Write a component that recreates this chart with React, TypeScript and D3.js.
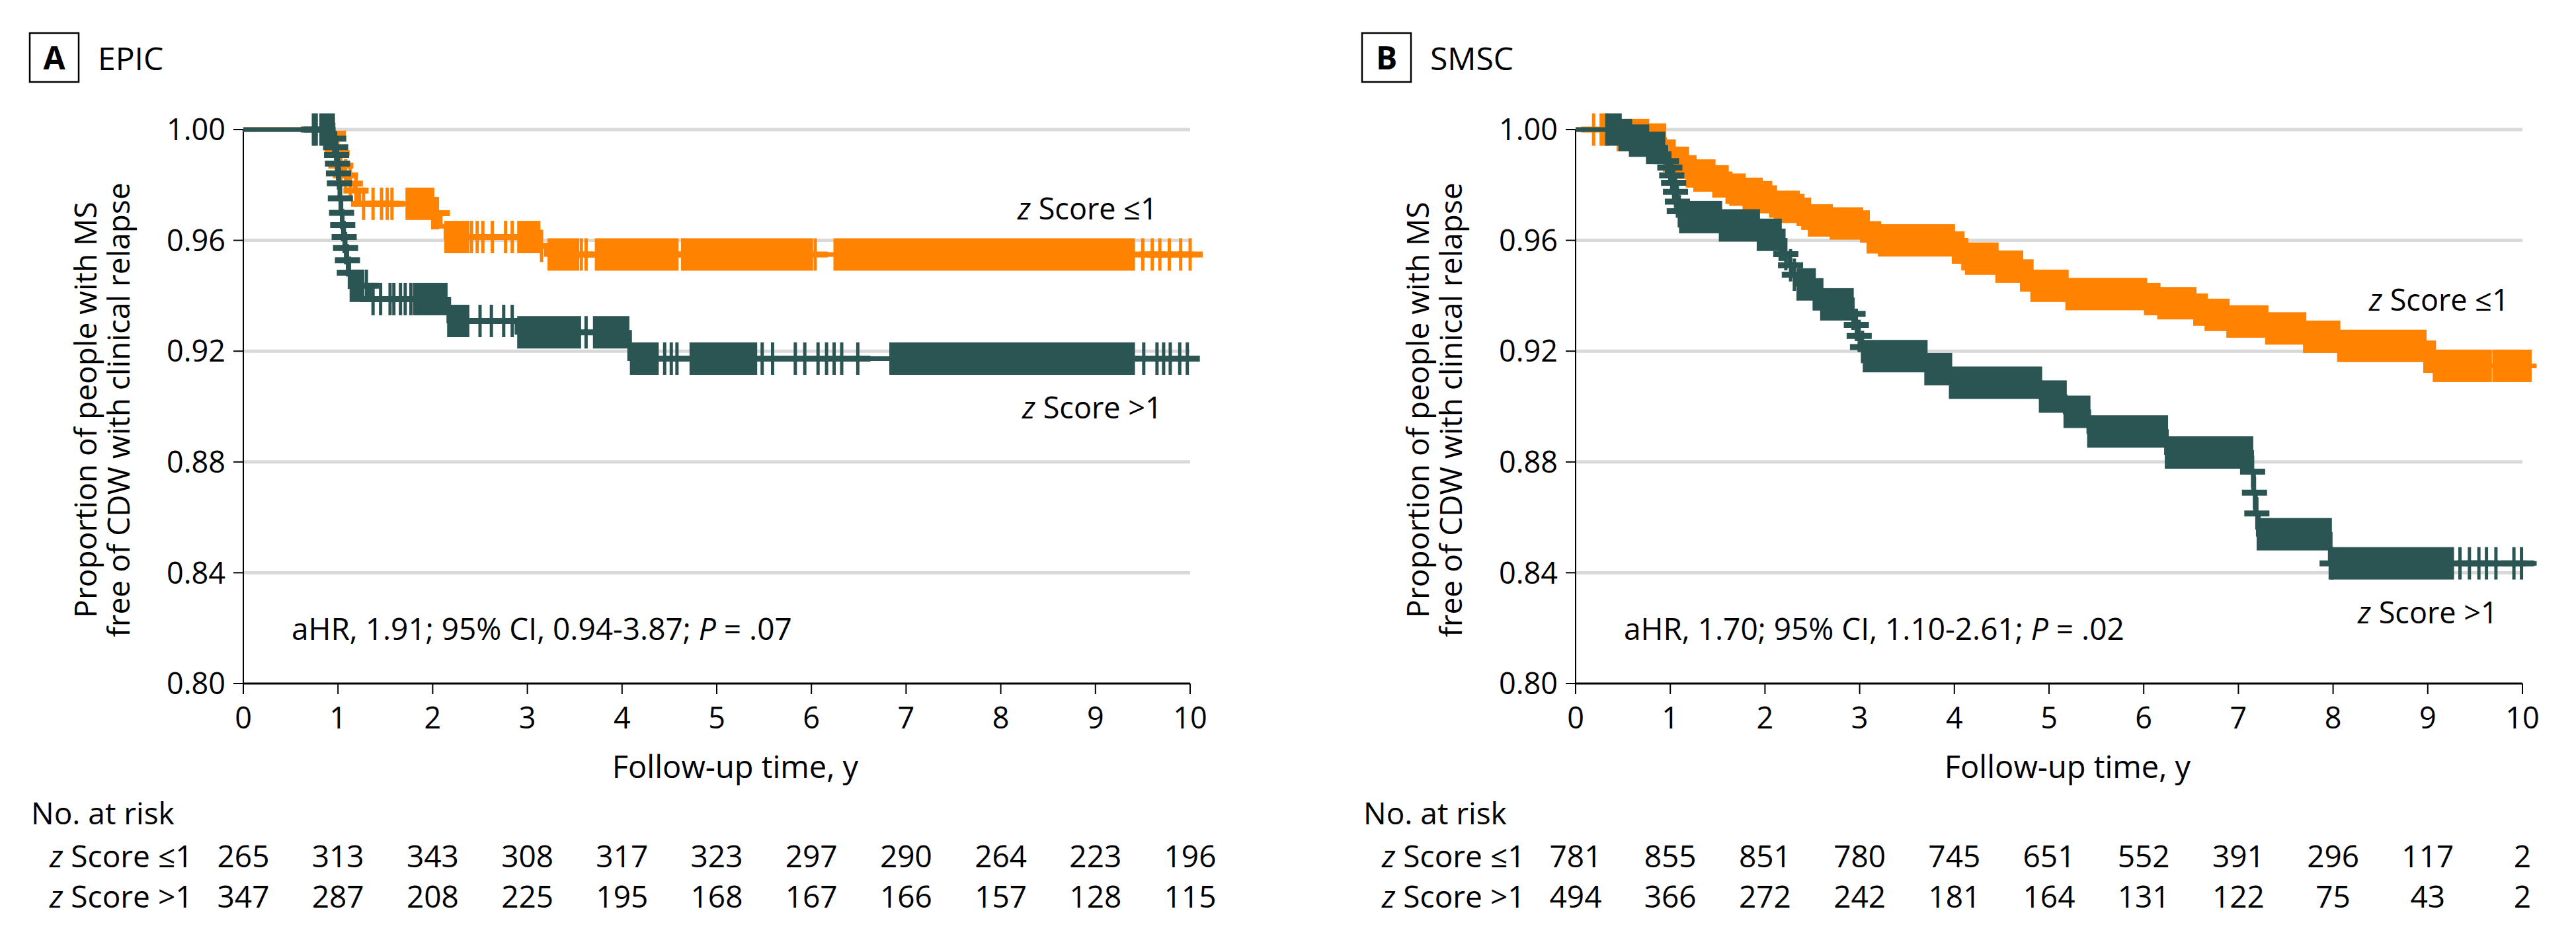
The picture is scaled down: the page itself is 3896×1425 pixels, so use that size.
import React from 'react';
import * as d3 from 'd3';

type Step = [number, number];
type Band = [number, number];

const ORANGE = '#ff8200';
const TEAL = '#2b5553';
const GRID = '#d9d9d9';
const FONT = "'Open Sans', 'Noto Sans', sans-serif";

const xTicks = [0, 1, 2, 3, 4, 5, 6, 7, 8, 9, 10];
const yTicks = [0.8, 0.84, 0.88, 0.92, 0.96, 1.0];

// ---- EPIC, z score <= 1 (orange)
const epicLowSteps: Step[] = [
  [0, 1.0], [0.93, 0.9985], [0.96, 0.9955], [0.99, 0.9915], [1.02, 0.987], [1.07, 0.9835],
  [1.12, 0.9805], [1.18, 0.978], [1.22, 0.9732], [2.0, 0.9698], [2.08, 0.9651], [2.14, 0.9612],
  [3.12, 0.958], [3.2, 0.9549],
];
const epicLowEnd = 10.09;
const epicLowBands: Band[] = [
  [1.73, 2.02], [2.14, 2.37], [2.91, 3.12], [3.23, 3.53], [3.73, 4.55], [4.66, 6.0], [6.25, 9.4],
];
const epicLowCensor = [
  0.95, 0.99, 1.03, 1.08, 1.13, 1.19, 1.27, 1.37, 1.46, 1.52, 1.57, 2.05, 2.41, 2.47, 2.53,
  2.63, 2.77, 2.84, 3.15, 3.57, 3.62, 4.58, 4.64, 6.04, 9.5, 9.6, 9.68, 9.78, 9.9, 10.0,
];

// ---- EPIC, z score > 1 (teal)
const epicHighSteps: Step[] = [
  [0, 1.0], [0.95, 0.9967], [0.97, 0.9936], [0.98, 0.9908], [0.99, 0.9877], [1.0, 0.9842],
  [1.01, 0.9806], [1.02, 0.9752], [1.03, 0.9699], [1.045, 0.9655], [1.06, 0.9612],
  [1.075, 0.9572], [1.09, 0.9528], [1.11, 0.9483], [1.13, 0.9436], [1.33, 0.9388],
  [2.17, 0.9309], [2.89, 0.9268], [4.08, 0.9173],
];
const epicHighEnd = 10.09;
const epicHighBands: Band[] = [
  [0.82, 0.95], [1.14, 1.26], [1.81, 2.14], [2.17, 2.37], [2.91, 3.55], [3.71, 4.06],
  [4.1, 4.37], [4.73, 5.41], [6.84, 9.4],
];
const epicHighCensor = [
  0.74, 0.77, 0.955, 0.975, 0.985, 0.995, 1.005, 1.015, 1.025, 1.038, 1.05, 1.065, 1.08,
  1.1, 1.12, 1.3, 1.37, 1.45, 1.55, 1.59, 1.66, 1.71, 1.77, 2.5, 2.62, 2.75, 2.84, 3.62,
  4.45, 4.52, 4.58, 5.48, 5.59, 5.83, 5.93, 6.07, 6.16, 6.24, 6.32, 6.49, 9.51, 9.65, 9.72,
  9.79, 9.89, 9.97,
];

// ---- SMSC, z score <= 1 (orange)
const smscLowSteps: Step[] = [
  [0, 1.0], [0.45, 0.998], [0.76, 0.9964], [0.94, 0.9906], [1.04, 0.988], [1.18, 0.9849],
  [1.26, 0.9834], [1.46, 0.9813], [1.6, 0.979], [1.64, 0.9783], [1.78, 0.9768], [1.96, 0.9756],
  [2.06, 0.974], [2.11, 0.9721], [2.35, 0.971], [2.4, 0.9696], [2.47, 0.9672], [2.7, 0.9661],
  [3.02, 0.965], [3.09, 0.9611], [3.21, 0.96], [3.99, 0.9574], [4.09, 0.955], [4.13, 0.9534],
  [4.45, 0.9505], [4.71, 0.9473], [4.82, 0.9436], [5.19, 0.9406], [6.02, 0.9388],
  [6.16, 0.9373], [6.54, 0.935], [6.66, 0.9331], [6.89, 0.9307], [7.3, 0.9282], [7.7, 0.9252],
  [8.06, 0.9219], [8.97, 0.918], [9.07, 0.9147],
];
const smscLowEnd = 10.15;
const smscLowBands: Band[] = [[0.27, 0.33], [0.45, 9.66], [9.7, 9.9], [9.93, 10.08]];
const smscLowCensor = [0.19];

// ---- SMSC, z score > 1 (teal)
const smscHighSteps: Step[] = [
  [0, 1.0], [0.47, 0.998], [0.58, 0.996], [0.76, 0.9934], [0.94, 0.9886], [0.99, 0.9863],
  [1.01, 0.9835], [1.03, 0.9808], [1.05, 0.9775], [1.07, 0.974], [1.09, 0.9705], [1.11, 0.9684],
  [1.53, 0.9654], [1.93, 0.962], [2.16, 0.9584], [2.21, 0.955], [2.26, 0.951], [2.3, 0.9476],
  [2.35, 0.9441], [2.52, 0.9405], [2.6, 0.9369], [2.92, 0.9335], [2.95, 0.9295], [2.98, 0.9255],
  [3.01, 0.9215], [3.05, 0.9182], [3.7, 0.9135], [3.96, 0.9086], [4.91, 0.9036], [5.17, 0.8981],
  [5.42, 0.891], [6.24, 0.8834], [7.14, 0.8765], [7.16, 0.8689], [7.18, 0.8614], [7.21, 0.8539],
  [7.97, 0.8434],
];
const smscHighEnd = 10.15;
const smscHighBands: Band[] = [[0.33, 0.93], [1.11, 2.2], [2.35, 2.92], [3.05, 7.14], [7.21, 9.26]];
const smscHighCensor = [
  0.96, 0.995, 1.015, 1.035, 1.055, 1.075, 1.095, 2.22, 2.27, 2.31, 2.93, 2.965, 2.995, 3.03,
  7.15, 7.17, 7.195, 7.99, 9.34, 9.44, 9.54, 9.62, 9.72, 9.91, 9.99,
];

// ---- numbers at risk
const epicRiskLow = [265, 313, 343, 308, 317, 323, 297, 290, 264, 223, 196];
const epicRiskHigh = [347, 287, 208, 225, 195, 168, 167, 166, 157, 128, 115];
const smscRiskLow = [781, 855, 851, 780, 745, 651, 552, 391, 296, 117, 2];
const smscRiskHigh = [494, 366, 272, 242, 181, 164, 131, 122, 75, 43, 2];

const TICK_H = 49;

function survAt(steps: Step[], t: number) {
  let s = steps[0][1];
  for (const [ti, si] of steps) {
    if (ti <= t) s = si;
    else break;
  }
  return s;
}

interface Series {
  steps: Step[];
  end: number;
  bands: Band[];
  censor: number[];
  color: string;
}

const Curve: React.FC<{ s: Series; x: d3.ScaleLinear<number, number>; y: d3.ScaleLinear<number, number> }> = ({ s, x, y }) => {
  const pts: Step[] = s.steps.concat([[s.end, s.steps[s.steps.length - 1][1]]]);
  const path = d3.line<Step>().x(d => x(d[0])).y(d => y(d[1])).curve(d3.curveStepAfter)(pts) || '';

  // dense censoring shows up as solid blocks of tick marks
  const rects: { x: number; y: number; w: number }[] = [];
  s.bands.forEach(([b0, b1]) => {
    s.steps.forEach(([t, v], i) => {
      const segEnd = i + 1 < s.steps.length ? s.steps[i + 1][0] : s.end;
      const a = Math.max(b0, t);
      const b = Math.min(b1, segEnd);
      if (b > a) rects.push({ x: x(a) - 2.5, w: x(b) - x(a) + 5, y: y(v) });
    });
  });

  return (
    <g>
      <path d={path} fill="none" stroke={s.color} strokeWidth={7} />
      {rects.map((r, i) => (
        <rect key={'b' + i} x={r.x} y={r.y - TICK_H / 2} width={r.w} height={TICK_H} fill={s.color} />
      ))}
      {s.censor.map((t, i) => {
        const cx = x(t);
        const cy = y(survAt(s.steps, t));
        return (
          <g key={'c' + i} stroke={s.color}>
            <line x1={cx} x2={cx} y1={cy - TICK_H / 2} y2={cy + TICK_H / 2} strokeWidth={5} />
            <line x1={cx - 19} x2={cx + 19} y1={cy} y2={cy} strokeWidth={9} />
          </g>
        );
      })}
    </g>
  );
};

const ZLabel: React.FC<{ x: number; y: number; rest: string; size?: number }> = ({ x, y, rest, size = 45 }) => (
  <text x={x} y={y} fontSize={size}>
    <tspan fontStyle="italic">z</tspan>
    {' Score ' + rest}
  </text>
);

interface PanelProps {
  dx: number;
  letter: string;
  name: string;
  low: Series;
  high: Series;
  riskLow: number[];
  riskHigh: number[];
  stats: string;
  pval: string;
  lowLabel: [number, number];
  highLabel: [number, number];
}

const Panel: React.FC<PanelProps> = p => {
  const x = d3.scaleLinear().domain([0, 10]).range([368, 1800]);
  const y = d3.scaleLinear().domain([0.8, 1.0]).range([1034, 196]);

  return (
    <g transform={`translate(${p.dx},0)`} fontFamily={FONT} fill="#000">
      {/* panel title */}
      <rect x={45} y={50} width={74} height={74} fill="none" stroke="#000" strokeWidth={2.5} />
      <text x={82} y={105} fontSize={48} fontWeight="bold" textAnchor="middle">{p.letter}</text>
      <text x={148} y={106} fontSize={48}>{p.name}</text>

      {/* grid */}
      {yTicks.filter(v => v > 0.8).map(v => (
        <line key={v} x1={x(0)} x2={x(10)} y1={y(v)} y2={y(v)} stroke={GRID} strokeWidth={5} />
      ))}

      {/* y axis */}
      <line x1={x(0)} x2={x(0)} y1={y(1.0)} y2={y(0.8)} stroke="#000" strokeWidth={2} />
      {yTicks.map(v => (
        <g key={v}>
          <line x1={x(0) - 15} x2={x(0)} y1={y(v)} y2={y(v)} stroke="#000" strokeWidth={2} />
          <text x={341} y={y(v)} dy="0.36em" fontSize={45} textAnchor="end">{v.toFixed(2)}</text>
        </g>
      ))}
      <text transform="rotate(-90)" textAnchor="middle" fontSize={46}>
        <tspan x={-620} y={146}>Proportion of people with MS</tspan>
        <tspan x={-620} y={196}>free of CDW with clinical relapse</tspan>
      </text>

      {/* x axis */}
      <line x1={x(0)} x2={x(10)} y1={y(0.8)} y2={y(0.8)} stroke="#000" strokeWidth={3} />
      {xTicks.map(t => (
        <g key={t}>
          <line x1={x(t)} x2={x(t)} y1={y(0.8)} y2={y(0.8) + 16} stroke="#000" strokeWidth={2} />
          <text x={x(t)} y={1102} fontSize={45} textAnchor="middle">{t}</text>
        </g>
      ))}
      <text x={1112} y={1177} fontSize={47} textAnchor="middle">Follow-up time, y</text>

      {/* curves */}
      <Curve s={p.low} x={x} y={y} />
      <Curve s={p.high} x={x} y={y} />

      <ZLabel x={p.lowLabel[0]} y={p.lowLabel[1]} rest={'\u22641'} />
      <ZLabel x={p.highLabel[0]} y={p.highLabel[1]} rest={'>1'} />

      <text x={441} y={968} fontSize={46}>
        {p.stats}
        <tspan fontStyle="italic">P</tspan>
        {p.pval}
      </text>

      {/* numbers at risk */}
      <text x={47} y={1247} fontSize={46}>No. at risk</text>
      <ZLabel x={75} y={1312} rest={'\u22641'} size={46} />
      <ZLabel x={75} y={1373} rest={'>1'} size={46} />
      {p.riskLow.map((n, i) => (
        <text key={'l' + i} x={x(xTicks[i])} y={1312} fontSize={46} textAnchor="middle">{n}</text>
      ))}
      {p.riskHigh.map((n, i) => (
        <text key={'h' + i} x={x(xTicks[i])} y={1373} fontSize={46} textAnchor="middle">{n}</text>
      ))}
    </g>
  );
};

export default function App() {
  return (
    <svg
      width={3896}
      height={1425}
      style={{ position: 'absolute', left: 0, top: 0, background: '#fff' }}
    >
      <rect width={3896} height={1425} fill="#fff" />
      <Panel
        dx={0}
        letter="A"
        name="EPIC"
        low={{ steps: epicLowSteps, end: epicLowEnd, bands: epicLowBands, censor: epicLowCensor, color: ORANGE }}
        high={{ steps: epicHighSteps, end: epicHighEnd, bands: epicHighBands, censor: epicHighCensor, color: TEAL }}
        riskLow={epicRiskLow}
        riskHigh={epicRiskHigh}
        stats="aHR, 1.91; 95% CI, 0.94-3.87; "
        pval=" = .07"
        lowLabel={[1539, 332]}
        highLabel={[1546, 633]}
      />
      <Panel
        dx={2015}
        letter="B"
        name="SMSC"
        low={{ steps: smscLowSteps, end: smscLowEnd, bands: smscLowBands, censor: smscLowCensor, color: ORANGE }}
        high={{ steps: smscHighSteps, end: smscHighEnd, bands: smscHighBands, censor: smscHighCensor, color: TEAL }}
        riskLow={smscRiskLow}
        riskHigh={smscRiskHigh}
        stats="aHR, 1.70; 95% CI, 1.10-2.61; "
        pval=" = .02"
        lowLabel={[1568, 470]}
        highLabel={[1551, 943]}
      />
    </svg>
  );
}
